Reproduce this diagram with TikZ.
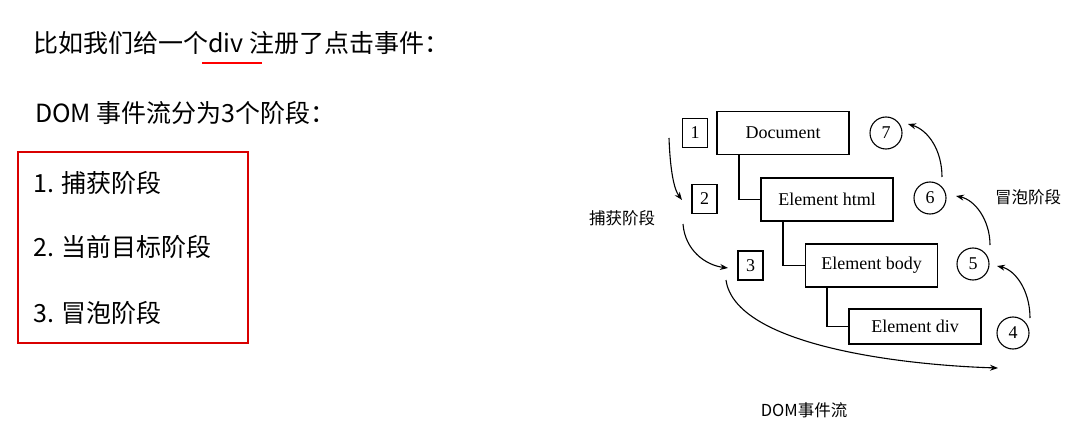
\documentclass[tikz,border=0pt]{standalone}
\usepackage{fontspec}
\setmainfont{Liberation Serif}
\newfontfamily\cjk{Noto Sans CJK SC}
\usetikzlibrary{arrows.meta}
\begin{document}
\begin{tikzpicture}[x=1pt,y=-1pt,
  tb/.style={draw,line width=1.1pt,minimum width=132pt,minimum height=43pt,inner sep=0pt,font=\fontsize{18}{18}\selectfont},
  nb/.style={draw,line width=1.1pt,minimum width=25pt,minimum height=29pt,inner sep=0pt,font=\fontsize{18}{18}\selectfont},
  cb/.style={draw,line width=1.1pt,circle,minimum size=32pt,inner sep=0pt,font=\fontsize{18}{18}\selectfont},
  ar/.style={line width=1.1pt,-{Stealth[length=8pt,width=6pt]}},
  big/.style={font=\cjk\fontsize{25}{25}\selectfont,anchor=west,inner sep=0pt},
  sm/.style={font=\cjk\fontsize{16.5}{16.5}\selectfont,inner sep=0pt}]
\useasboundingbox (0,0) rectangle (1080,425);
\node[big] (t1) at (33,43) {比如我们给一个div 注册了点击事件：};
\draw[red,line width=1.6pt] (202,63) -- (262,63);
\node[big] (t2) at (35,113) {DOM 事件流分为3个阶段：};
\draw[red!85!black,line width=1.1pt] (18,152) rectangle (248,343);
\node[big] (i1) at (33,183) {1. 捕获阶段};
\node[big] (i2) at (33,247) {2. 当前目标阶段};
\node[big] (i3) at (33,313) {3. 冒泡阶段};
\node[tb] (doc) at (783,133) {Document};
\node[tb] (html) at (827,199.5) {Element html};
\node[tb] (body) at (871.5,265.5) {Element body};
\node[tb,minimum height=35pt] (div) at (915,326.5) {Element div};
\node[nb] (n1) at (695,133) {1};
\node[nb] (n2) at (704.5,199) {2};
\node[nb] (n3) at (750.5,265.5) {3};
\node[cb] (c7) at (886,133) {7};
\node[cb] (c6) at (930,198) {6};
\node[cb] (c5) at (973,264) {5};
\node[cb] (c4) at (1013,333) {4};
\draw[line width=1.1pt] (739,155) |- (html.west);
\draw[line width=1.1pt] (783,221) |- (body.west);
\draw[line width=1.1pt] (827,288) |- (div.west);
\coordinate (a1s) at (669,138); \coordinate (a1e) at (682,200);
\coordinate (a2s) at (683,224); \coordinate (a2e) at (728,268);
\coordinate (a3s) at (726,280); \coordinate (a3e) at (998,368);
\draw[ar] (a1s) .. controls (670,165) and (673,188) .. (a1e);
\draw[ar] (a2s) .. controls (685,250) and (705,265) .. (a2e);
\draw[ar] (a3s) .. controls (735,345) and (900,365) .. (a3e);
\coordinate (b1s) at (1030,318); \coordinate (b1e) at (997,266);
\coordinate (b2s) at (990,245); \coordinate (b2e) at (956,196);
\coordinate (b3s) at (942,177); \coordinate (b3e) at (908,124);
\draw[ar] (b1s) .. controls (1030,290) and (1015,270) .. (b1e);
\draw[ar] (b2s) .. controls (990,220) and (975,200) .. (b2e);
\draw[ar] (b3s) .. controls (942,150) and (928,130) .. (b3e);
\node[sm] (cap) at (622,218) {捕获阶段};
\node[sm] (bub) at (1028,197) {冒泡阶段};
\node[sm] (flow) at (804,410) {DOM事件流};
\end{tikzpicture}
\end{document}
